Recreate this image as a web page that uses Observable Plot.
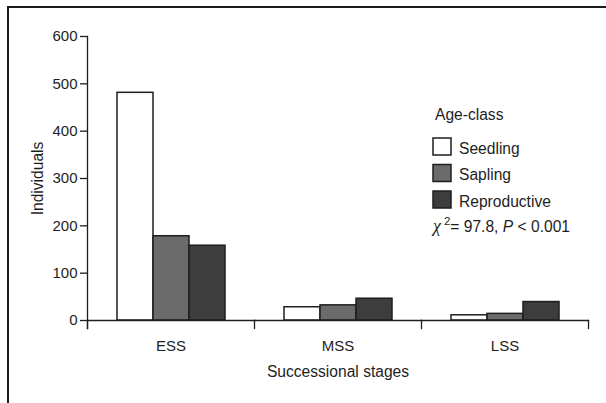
<!DOCTYPE html>
<html><head><meta charset="utf-8">
<script src="https://cdn.jsdelivr.net/npm/d3@7"></script>
<script src="https://cdn.jsdelivr.net/npm/@observablehq/plot@0.6"></script>
<style>body{margin:0;background:#fff} #chart{width:606px;height:403px}</style>
</head><body><div id="chart"></div>
<script>
const stages = ["ESS", "MSS", "LSS"];
const ageClasses = ["Seedling", "Sapling", "Reproductive"];
const seedling = [481, 28, 11];
const sapling = [178, 32, 14];
const reproductive = [158, 46, 39];
const yTicks = [0, 100, 200, 300, 400, 500, 600];
const classColors = ["#ffffff", "#6b6b6b", "#3d3d3d"];
const legendTitle = "Age-class";
const yLabel = "Individuals";
const xLabel = "Successional stages";

const series = {Seedling: seedling, Sapling: sapling, Reproductive: reproductive};
const data = stages.flatMap((s, i) => ageClasses.map(c => ({stage: s, cls: c, value: series[c][i]})));

const font = "'Liberation Sans', Arial, Helvetica, sans-serif";
const ink = "#1e1e1e";
const fs = 15;
const fsText = 15.6;

const plot = Plot.plot({
  width: 606, height: 403,
  marginLeft: 87, marginRight: 18, marginTop: 36, marginBottom: 83,
  style: {fontFamily: font, fontSize: fs + "px", color: ink, background: "white", overflow: "visible"},
  fx: {domain: stages, padding: 0, label: null, axis: null},
  x: {domain: ageClasses, paddingInner: 0, paddingOuter: 0.757, axis: null},
  y: {domain: [0, 600], ticks: yTicks, axis: null},
  color: {domain: ageClasses, range: classColors},
  marks: [
    Plot.barY(data, {fx: "stage", x: "cls", y: "value", fill: "cls", stroke: ink, strokeWidth: 1.5}),
    Plot.frame({anchor: "bottom", stroke: ink, strokeWidth: 1.3}),
    Plot.frame({anchor: "left", facetAnchor: "left", insetBottom: -8, stroke: ink, strokeWidth: 1.3}),
    Plot.frame({anchor: "left", insetTop: 284, insetBottom: -8, stroke: ink, strokeWidth: 1.3}),
    Plot.frame({anchor: "right", facetAnchor: "right", insetTop: 284, insetBottom: -8, stroke: ink, strokeWidth: 1.3}),
    Plot.axisY({ticks: yTicks, tickSize: 7, tickPadding: 3, fontSize: fs, label: null, stroke: ink, strokeWidth: 1.3}),
    Plot.axisY({ticks: [], tickSize: 0, fontSize: fsText, label: yLabel, labelAnchor: "center", labelArrow: "none", labelOffset: 56}),
    Plot.axisFx({anchor: "bottom", tickSize: 0, tickPadding: 20, fontSize: fs, label: null}),
    Plot.axisFx({anchor: "bottom", ticks: [], tickSize: 0, fontSize: fsText, label: xLabel, labelAnchor: "center", labelArrow: "none", labelOffset: 56})
  ]
});
document.getElementById("chart").appendChild(plot);

const svg = d3.select(plot);
const colorScale = plot.scale("color");
const lg = svg.append("g").attr("font-family", font).attr("font-size", fsText).attr("fill", ink).attr("text-anchor", "start");
lg.append("text").attr("x", 435).attr("y", 120).text(legendTitle);
ageClasses.forEach((c, i) => {
  lg.append("rect").attr("x", 433).attr("y", 138 + i * 26.5).attr("width", 18).attr("height", 17)
    .attr("fill", colorScale.apply(c)).attr("stroke", ink).attr("stroke-width", 1.5);
  lg.append("text").attr("x", 459).attr("y", 153.5 + i * 26.5).text(c);
});
const stat = lg.append("text").attr("x", 433).attr("y", 231.5);
stat.append("tspan").attr("font-style", "italic").attr("font-family", "'Liberation Serif', serif").attr("font-size", 18).text("χ");
stat.append("tspan").attr("font-size", 11.5).attr("dy", -7).attr("dx", 3).text("2");
stat.append("tspan").attr("dy", 7).text("= 97.8, ");
stat.append("tspan").attr("font-style", "italic").text("P");
stat.append("tspan").text(" < 0.001");

// outer image border (top and left)
svg.append("path").attr("d", "M8,403V7H606").attr("fill", "none").attr("stroke", "#1a1a1a").attr("stroke-width", 2);
</script>
</body></html>
